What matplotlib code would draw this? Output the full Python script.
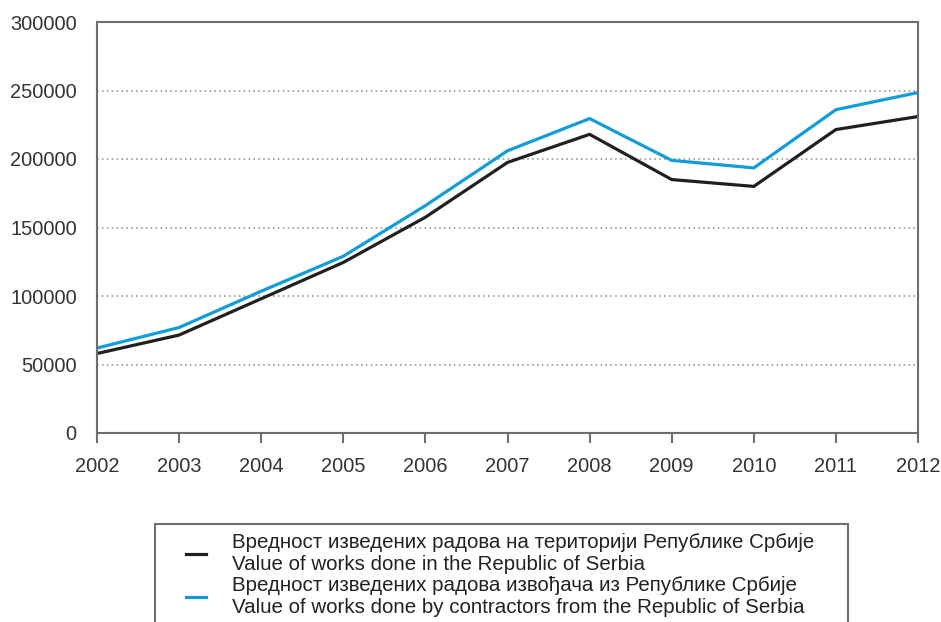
import matplotlib.pyplot as plt
from matplotlib.legend_handler import HandlerLine2D

# data
years = [2002, 2003, 2004, 2005, 2006, 2007, 2008, 2009, 2010, 2011, 2012]
works_in_serbia = [58000, 71500, 98000, 124500, 157500, 197500, 218000, 185000, 180000, 221500, 231000]
works_by_contractors = [62000, 77000, 103500, 129000, 166000, 206000, 229500, 199000, 193500, 236000, 248500]

labels = [
    "Вредност изведених радова на територији Републике Србије\nValue of works done in the Republic of Serbia",
    "Вредност изведених радова извођача из Републике Србије\nValue of works done by contractors from the Republic of Serbia",
]
yticks = [0, 50000, 100000, 150000, 200000, 250000, 300000]

plt.rcParams['font.family'] = ['Liberation Sans', 'DejaVu Sans']

fig = plt.figure(figsize=(9.41, 6.22), dpi=100)
ax = fig.add_axes([97 / 941, 1 - 433 / 622, 821 / 941, 411 / 622])

l1, = ax.plot(years, works_in_serbia, color='#231f20', lw=2.3, solid_joinstyle='miter')
l2, = ax.plot(years, works_by_contractors, color='#109dd9', lw=2.3, solid_joinstyle='miter')

ax.set_xlim(years[0], years[-1])
ax.set_ylim(0, 300000)
ax.set_xticks(years)
ax.set_yticks(yticks)
ax.set_yticklabels([str(v) for v in yticks])

for y in yticks[1:-1]:
    ax.axhline(y, color='#8a8a8a', lw=1.1, ls=(0, (1, 2.2)), zorder=0)

for s in ax.spines.values():
    s.set_color('#6e6e6e')
    s.set_linewidth(1.5)

ax.tick_params(axis='y', length=0, pad=14.5, labelsize=14.4, labelcolor='#333333')
ax.tick_params(axis='x', direction='out', length=7, width=1.5, color='#6e6e6e',
               pad=10.5, labelsize=14.4, labelcolor='#333333')

fs = 14.8
leg = fig.legend(
    [l1, l2], labels,
    loc='upper left',
    bbox_to_anchor=(155 / 941, 0, 693 / 941, 1 - 524 / 622),
    mode='expand', borderaxespad=0, fontsize=fs,
    handlelength=2.05, handletextpad=1.27, labelspacing=0.1,
    borderpad=0.42, fancybox=False, framealpha=1,
    handler_map={l1: HandlerLine2D(xpad=1.1), l2: HandlerLine2D(xpad=1.1)},
)
leg.get_frame().set_edgecolor('#6e6e6e')
leg.get_frame().set_linewidth(1.5)
for t in leg.get_texts():
    t.set_color('#222222')
    t.set_linespacing(1.22)

fig.savefig('out.png', dpi=100)
